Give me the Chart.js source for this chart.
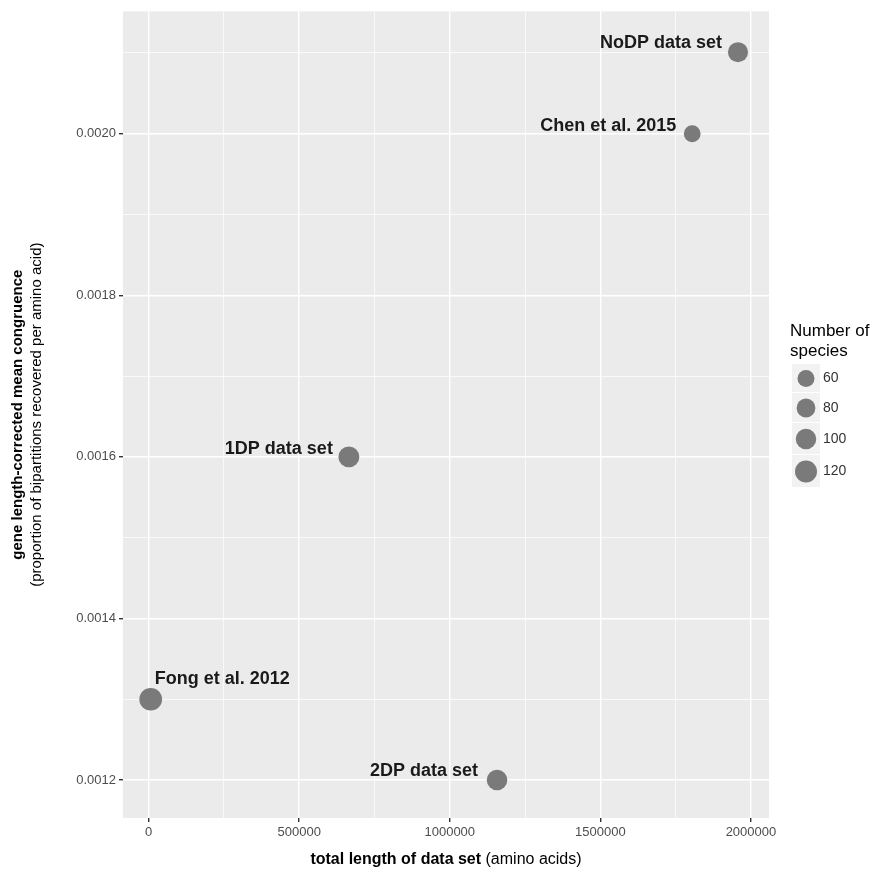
<!DOCTYPE html>
<html>
<head>
<meta charset="utf-8">
<script src="https://cdn.jsdelivr.net/npm/chart.js@4/dist/chart.umd.min.js"></script>
<style>
  body { margin: 0; background: #fff; }
  #wrap { width: 882px; height: 877px; }
</style>
</head>
<body>
<div id="wrap"><canvas id="c" width="882" height="877"></canvas></div>
<script>
// data
var setNames = ['NoDP data set', 'Chen et al. 2015', '1DP data set', 'Fong et al. 2012', '2DP data set'];
var totalLength = [1957000, 1805000, 665000, 7000, 1157000];
var congruence = [0.002101, 0.0020, 0.0016, 0.0013, 0.0012];
var species = [95, 58, 106, 130, 101];

var xMajor = [0, 500000, 1000000, 1500000, 2000000];
var xMinor = [250000, 750000, 1250000, 1750000];
var yMajor = [0.0012, 0.0014, 0.0016, 0.0018, 0.0020];
var yMinor = [0.0013, 0.0015, 0.0017, 0.0019, 0.0021];
var legendBreaks = [60, 80, 100, 120];

// label placement relative to point centre (dx, dy, align)
var labelPlace = [
  [-16, -9, 'right'],
  [-16, -8, 'right'],
  [-16, -8, 'right'],
  [4, -20, 'left'],
  [-19, -9, 'right']
];

var FONT = '"Liberation Sans", Arial, Helvetica, sans-serif';
var pointCol = 'rgb(122,122,122)';

// size scale (area ~ species)
function radiusFor(n) {
  return Math.sqrt(23.5 + 0.8125 * n);
}

var points = [];
for (var i = 0; i < setNames.length; i++) {
  points.push({x: totalLength[i], y: congruence[i], r: radiusFor(species[i])});
}

function isMajor(list, v) {
  for (var k = 0; k < list.length; k++) {
    if (Math.abs(list[k] - v) < 1e-9 * Math.max(1, Math.abs(v))) return true;
  }
  return false;
}

var extras = {
  id: 'extras',
  afterDatasetsDraw: function (chart) {
    var ctx = chart.ctx;
    var meta = chart.getDatasetMeta(0);
    ctx.save();
    ctx.fillStyle = '#1a1a1a';
    ctx.font = 'bold 18px ' + FONT;
    ctx.textBaseline = 'middle';
    for (var i = 0; i < meta.data.length; i++) {
      var el = meta.data[i];
      var p = labelPlace[i];
      ctx.textAlign = p[2];
      ctx.fillText(setNames[i], el.x + p[0], el.y + p[1]);
    }
    ctx.restore();
  },
  afterDraw: function (chart) {
    var ctx = chart.ctx;
    var area = chart.chartArea;
    ctx.save();
    // y title
    var cy = (area.top + area.bottom) / 2;
    ctx.translate(18, cy);
    ctx.rotate(-Math.PI / 2);
    ctx.textAlign = 'center';
    ctx.textBaseline = 'middle';
    ctx.fillStyle = '#000';
    ctx.font = 'bold 15px ' + FONT;
    ctx.fillText('gene length-corrected mean congruence', 0, 0);
    ctx.font = '15px ' + FONT;
    ctx.fillText('(proportion of bipartitions recovered per amino acid)', 0, 19);
    ctx.restore();

    // x title, bold + regular
    ctx.save();
    ctx.textBaseline = 'middle';
    ctx.fillStyle = '#000';
    var a = 'total length of data set';
    var b = ' (amino acids)';
    ctx.font = 'bold 16px ' + FONT;
    var wa = ctx.measureText(a).width;
    ctx.font = '16px ' + FONT;
    var wb = ctx.measureText(b).width;
    var x0 = (area.left + area.right) / 2 - (wa + wb) / 2;
    ctx.textAlign = 'left';
    ctx.font = 'bold 16px ' + FONT;
    ctx.fillText(a, x0, 860);
    ctx.font = '16px ' + FONT;
    ctx.fillText(b, x0 + wa, 860);
    ctx.restore();

    // size legend
    ctx.save();
    ctx.fillStyle = '#000';
    ctx.font = '17px ' + FONT;
    ctx.textAlign = 'left';
    ctx.textBaseline = 'alphabetic';
    ctx.fillText('Number of', 790, 336);
    ctx.fillText('species', 790, 356);
    var rowTop = 364;
    var rowH = [29, 30, 32, 33];
    ctx.font = '14px ' + FONT;
    ctx.textBaseline = 'middle';
    for (var k = 0; k < legendBreaks.length; k++) {
      ctx.fillStyle = '#f2f2f2';
      ctx.fillRect(792, rowTop, 28, rowH[k] - 1);
      var r = radiusFor(legendBreaks[k]);
      ctx.fillStyle = pointCol;
      ctx.beginPath();
      ctx.arc(806, rowTop + rowH[k] / 2, r, 0, Math.PI * 2);
      ctx.fill();
      ctx.fillStyle = '#333';
      ctx.fillText(String(legendBreaks[k]), 823, rowTop + rowH[k] / 2);
      rowTop += rowH[k];
    }
    ctx.restore();
  }
};

new Chart(document.getElementById('c'), {
  type: 'bubble',
  data: {
    datasets: [{
      data: points,
      backgroundColor: pointCol,
      borderWidth: 0,
      hoverBorderWidth: 0
    }]
  },
  options: {
    responsive: false,
    animation: false,
    layout: { padding: { left: 0, top: 5, right: 113, bottom: 0 } },
    plugins: {
      legend: { display: false },
      tooltip: { enabled: false }
    },
    scales: {
      x: {
        type: 'linear',
        min: -85000,
        max: 2060000,
        afterFit: function (s) { s.height = 59; },
        afterBuildTicks: function (s) {
          s.ticks = xMajor.concat(xMinor).sort(function (p, q) { return p - q; })
            .map(function (v) { return {value: v}; });
        },
        border: { display: false },
        grid: {
          color: '#ffffff',
          lineWidth: function (c) { return c.tick && isMajor(xMajor, c.tick.value) ? 1.4 : 0.7; },
          tickColor: function (c) { return c.tick && isMajor(xMajor, c.tick.value) ? '#333333' : 'rgba(0,0,0,0)'; },
          tickLength: 4,
          drawTicks: true
        },
        ticks: {
          autoSkip: false,
          maxRotation: 0,
          padding: 3,
          color: '#4d4d4d',
          font: { family: FONT, size: 13 },
          callback: function (v) { return isMajor(xMajor, v) ? String(v) : ''; }
        }
      },
      y: {
        type: 'linear',
        min: 0.001153,
        max: 0.0021515,
        afterFit: function (s) { s.width = 123; },
        afterBuildTicks: function (s) {
          s.ticks = yMajor.concat(yMinor).sort(function (p, q) { return p - q; })
            .map(function (v) { return {value: v}; });
        },
        border: { display: false },
        grid: {
          color: '#ffffff',
          lineWidth: function (c) { return c.tick && isMajor(yMajor, c.tick.value) ? 1.4 : 0.7; },
          tickColor: function (c) { return c.tick && isMajor(yMajor, c.tick.value) ? '#333333' : 'rgba(0,0,0,0)'; },
          tickLength: 4,
          drawTicks: true
        },
        ticks: {
          autoSkip: false,
          padding: 3,
          color: '#4d4d4d',
          font: { family: FONT, size: 13 },
          callback: function (v) { return isMajor(yMajor, v) ? v.toFixed(4) : ''; }
        }
      }
    }
  },
  plugins: [{
    id: 'panelBg',
    beforeDraw: function (chart) {
      var a = chart.chartArea;
      chart.ctx.save();
      chart.ctx.fillStyle = '#ebebeb';
      chart.ctx.fillRect(a.left, a.top, a.right - a.left, a.bottom - a.top);
      chart.ctx.restore();
    }
  }, extras]
});
</script>
</body>
</html>
